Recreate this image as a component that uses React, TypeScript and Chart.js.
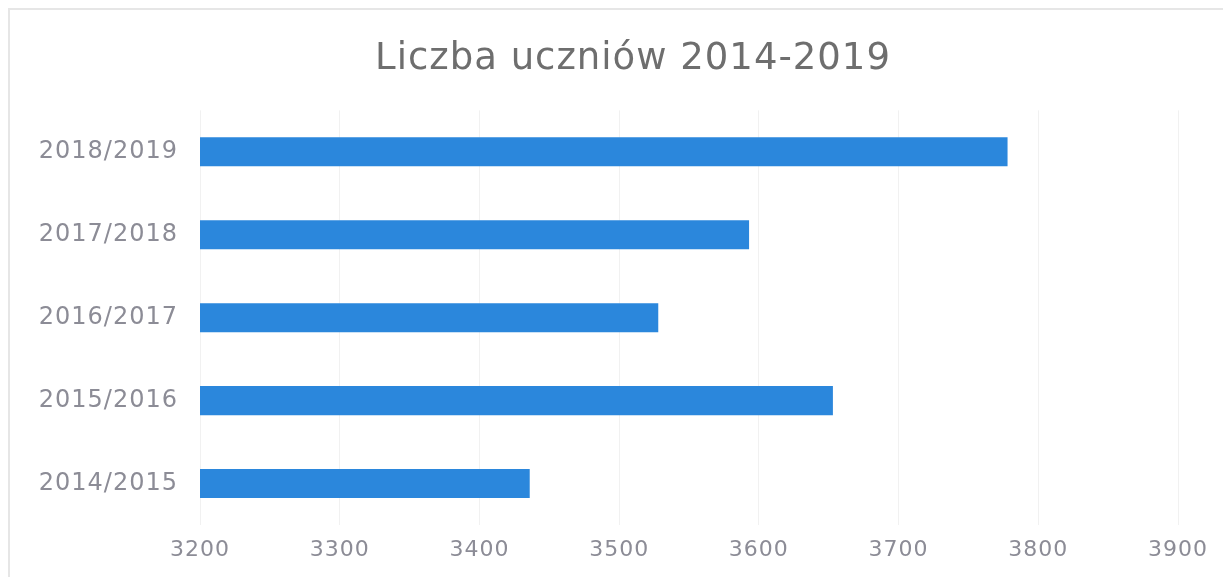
import React, { useEffect, useRef } from "react";
import { Chart, registerables } from "chart.js";

Chart.register(...registerables);

const categories = ["2018/2019", "2017/2018", "2016/2017", "2015/2016", "2014/2015"];
const values = [3778, 3593, 3528, 3653, 3436];
const xMin = 3200;
const xMax = 3900;
const xStep = 100;
const titleText = "Liczba uczniów 2014-2019";

const FONT = "'DejaVu Sans', sans-serif";

const spacingPlugin = {
  id: "letterSpacing",
  beforeUpdate(chart: any) {
    chart.ctx.letterSpacing = "1px";
  },
  beforeLayout(chart: any) {
    chart.ctx.letterSpacing = "1px";
  },
  beforeDraw(chart: any) {
    chart.ctx.letterSpacing = "1px";
  },
};

export default function App() {
  const ref = useRef<HTMLCanvasElement | null>(null);

  useEffect(() => {
    if (!ref.current) return;
    const chart = new Chart(ref.current, {
      type: "bar",
      data: {
        labels: categories,
        datasets: [
          {
            data: values,
            backgroundColor: "#2b87dc",
            borderWidth: 0,
            categoryPercentage: 1,
            barPercentage: 0.35,
          },
        ],
      },
      plugins: [spacingPlugin],
      options: {
        indexAxis: "y",
        responsive: false,
        animation: false,
        layout: { padding: { left: 0, right: 0, top: 0, bottom: 0 } },
        plugins: {
          legend: { display: false },
          tooltip: { enabled: false },
          title: {
            display: true,
            text: titleText,
            color: "#6e6e6e",
            font: { family: FONT, size: 37, weight: "normal" },
            padding: { top: 27, bottom: 29 },
          },
        },
        scales: {
          x: {
            type: "linear",
            min: xMin,
            max: xMax,
            ticks: {
              stepSize: xStep,
              color: "#8c8c96",
              font: { family: FONT, size: 22 },
              padding: 12,
              callback: (v: any) => String(v),
            },
            grid: { color: "#f1f1f1", drawTicks: false },
            border: { display: false },
            afterFit: (s: any) => {
              s.height = 52;
            },
          },
          y: {
            ticks: {
              color: "#8c8c96",
              font: { family: FONT, size: 24 },
              padding: 22,
            },
            grid: { display: false, drawTicks: false },
            border: { display: false },
            afterFit: (s: any) => {
              s.width = 190;
            },
          },
          yRight: {
            type: "category",
            position: "right",
            display: true,
            ticks: { display: false },
            grid: { display: false, drawTicks: false },
            border: { display: false },
            afterFit: (s: any) => {
              s.width = 78;
            },
          },
        },
      },
    });
    return () => chart.destroy();
  }, []);

  return (
    <div
      style={{
        width: 1213,
        height: 567,
        overflow: "hidden",
        borderLeft: "2px solid #e6e6e6",
        borderTop: "2px solid #e6e6e6",
      }}
    >
      <canvas ref={ref} width={1246} height={567} style={{ display: "block" }} />
    </div>
  );
}
